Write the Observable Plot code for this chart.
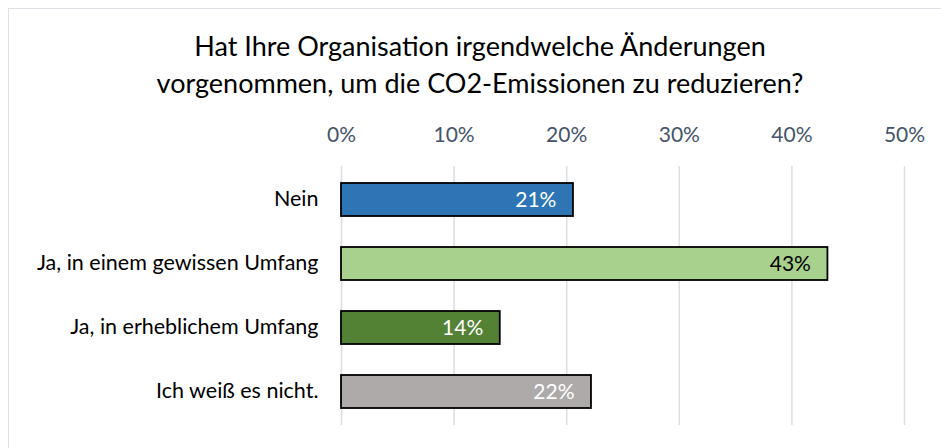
<!DOCTYPE html>
<html>
<head>
<meta charset="utf-8">
<script src="https://cdn.jsdelivr.net/npm/d3@7"></script>
<script src="https://cdn.jsdelivr.net/npm/@observablehq/plot@0.6"></script>
<style>
  html, body { margin: 0; padding: 0; background: #fff; }
  body { width: 941px; height: 448px; overflow: hidden; position: relative; font-family: "Lato", sans-serif; }
  #frame { position: absolute; left: 8px; top: 8px; width: 1000px; height: 600px; border: 1.5px solid #DDE2E8; box-sizing: border-box; }
  #title { position: absolute; left: 0; top: 27px; width: 960px; text-align: center; font-size: 27px; line-height: 37px; color: #000; }
  #chart { position: absolute; left: 0; top: 110px; }
</style>
</head>
<body>
<div id="frame"></div>
<div id="title">Hat Ihre Organisation irgendwelche Änderungen<br>vorgenommen, um die CO2-Emissionen zu reduzieren?</div>
<div id="chart"></div>
<script>
const categories = ["Nein", "Ja, in einem gewissen Umfang", "Ja, in erheblichem Umfang", "Ich weiß es nicht."];
const values = [0.206, 0.432, 0.141, 0.222];
const barColors = ["#2E75B6", "#A9D18E", "#548235", "#AEAAAA"];
const labelColors = ["#ffffff", "#000000", "#ffffff", "#ffffff"];
const xTicks = [0, 0.1, 0.2, 0.3, 0.4, 0.5];

const data = categories.map((c, i) => ({category: c, value: values[i], label: Math.round(values[i] * 100) + "%", labelColor: labelColors[i]}));

const chart = Plot.plot({
  width: 941,
  height: 338,
  marginLeft: 341,
  marginRight: 37,
  marginTop: 56,
  marginBottom: 23,
  style: {fontFamily: "Lato, sans-serif", background: "transparent"},
  x: {domain: [0, 0.5]},
  y: {domain: categories, paddingInner: 0.49, paddingOuter: 0.25},
  color: {domain: categories, range: barColors},
  marks: [
    Plot.gridX(xTicks, {stroke: "#D9DEE6", strokeOpacity: 1, strokeWidth: 1.5}),
    Plot.axisX(xTicks, {anchor: "top", tickSize: 0, tickPadding: 25, tickFormat: d3.format(".0%"), fontSize: 21, color: "#44546A", label: null}),
    Plot.axisY({tickSize: 0, tickPadding: 23, fontSize: 21.5, color: "#000", label: null, dy: -1}),
    Plot.barX(data, {y: "category", x: "value", fill: "category", stroke: "#000", strokeWidth: 1.8}),
    Plot.text(data, {y: "category", x: "value", text: "label", fill: d => d.labelColor, textAnchor: "end", dx: -17, fontSize: 21})
  ]
});
document.getElementById("chart").appendChild(chart);
</script>
</body>
</html>
